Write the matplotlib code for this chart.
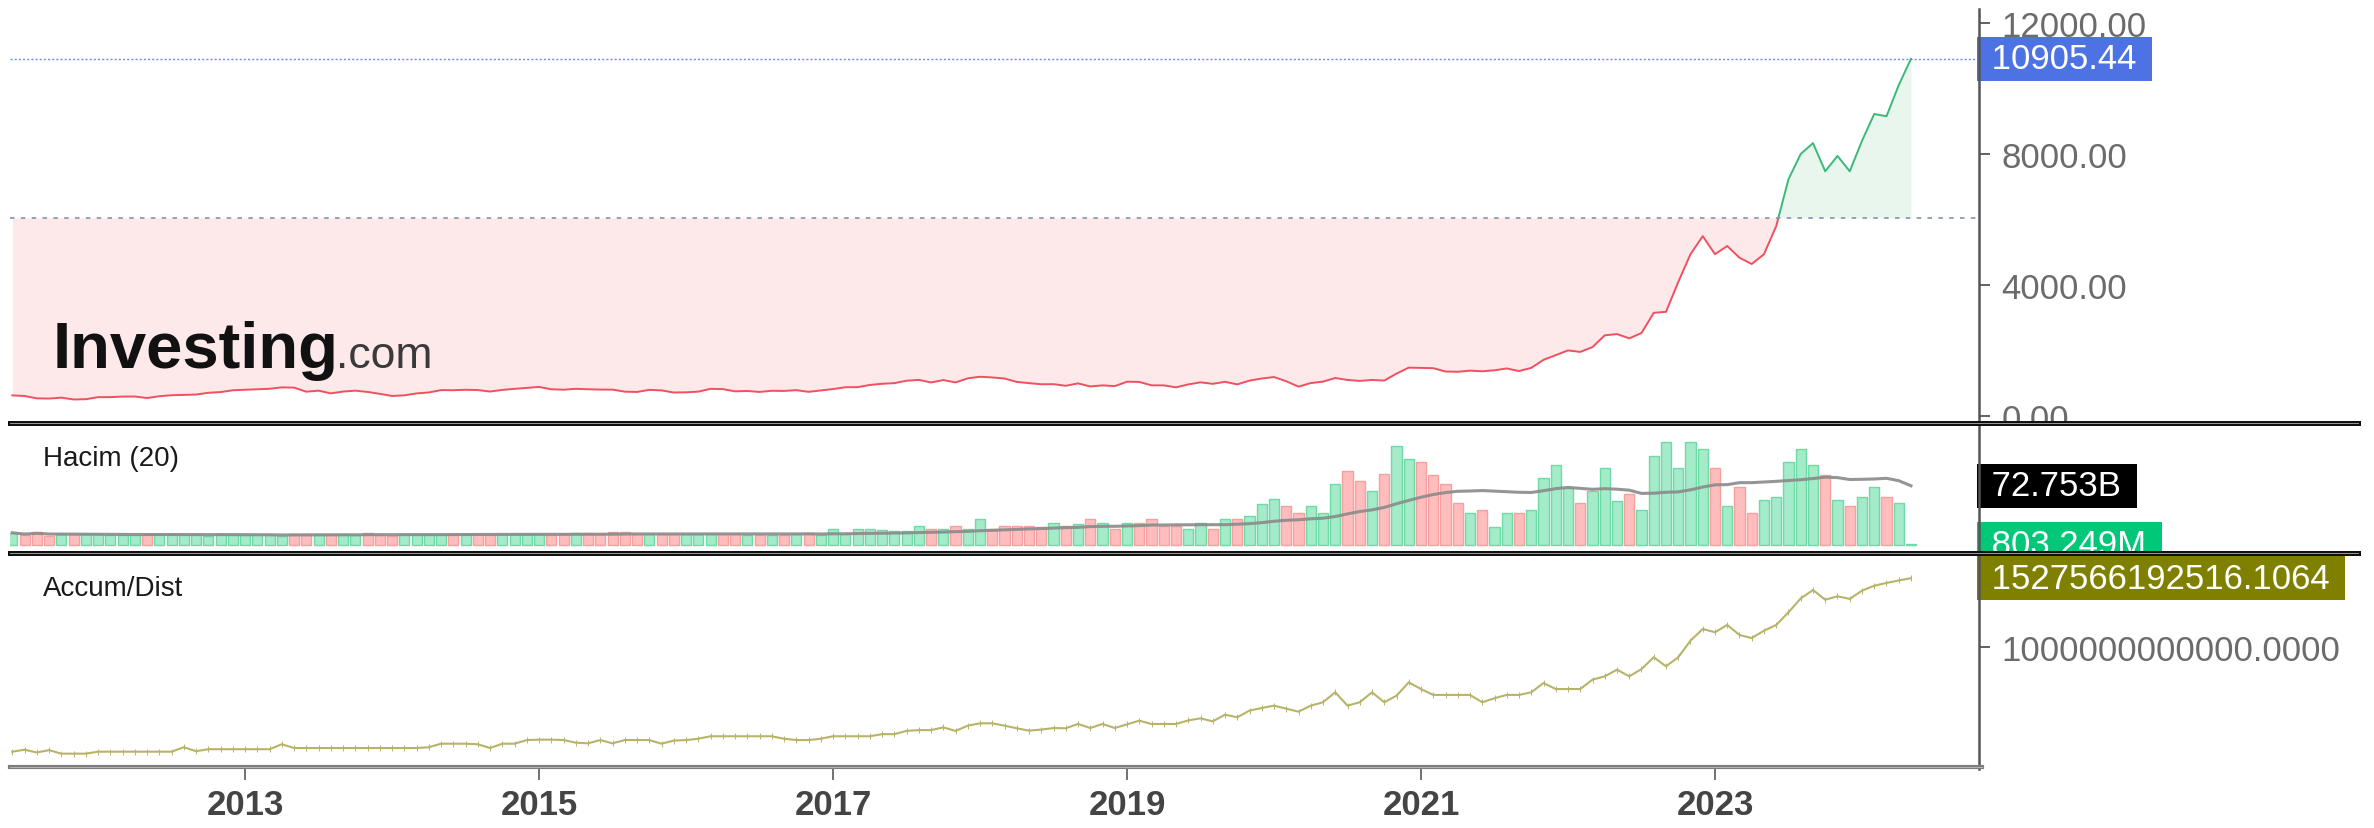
import numpy as np
import pandas as pd
import matplotlib
matplotlib.use('Agg')
import matplotlib.pyplot as plt
from matplotlib.lines import Line2D
from matplotlib.patches import Rectangle
from matplotlib.ticker import FormatStrFormatter

plt.rcParams['font.family'] = ['Liberation Sans', 'DejaVu Sans']

# Aylik veri: Haziran 2011 - Mayis 2024 (156 ay)
first_year, first_month = 2011, 6

close_prices = [
    629, 612, 539, 532, 560, 505, 513, 575, 577, 593,
    595, 549, 604, 634, 644, 655, 709, 730, 786, 802,
    815, 831, 874, 866, 742, 774, 691, 746, 774, 735,
    677, 612, 631, 690, 719, 791, 787, 801, 792, 747,
    797, 829, 857, 888, 816, 803, 830, 816, 807, 805,
    743, 734, 798, 782, 717, 723, 744, 830, 821, 753,
    764, 735, 770, 766, 789, 738, 781, 822, 878, 880,
    947, 984, 1003, 1077, 1103, 1024, 1097, 1026, 1150, 1198,
    1177, 1144, 1041, 1003, 969, 972, 923, 995, 903, 935,
    912, 1047, 1040, 936, 935, 875, 965, 1028, 982, 1043,
    966, 1081, 1144, 1190, 1060, 896, 1006, 1050, 1160, 1100,
    1072, 1101, 1082, 1293, 1477, 1470, 1460, 1358, 1350, 1385,
    1365, 1396, 1452, 1373, 1469, 1715, 1857, 2002, 1957, 2104,
    2463, 2501, 2370, 2534, 3150, 3180, 4090, 4940, 5490, 4940,
    5190, 4830, 4640, 4940, 5800, 7230, 8000, 8330, 7470, 7940,
    7470, 8400, 9220, 9150, 10100, 10905.44,
]

# Hacim, milyar
volume_bn = [
    15, 12, 16, 11, 13, 13, 13, 13, 12, 12,
    12, 13, 13, 14, 12, 12, 11, 14, 12, 12,
    12, 12, 11, 13, 13, 13, 14, 14, 12, 15,
    12, 11, 14, 14, 13, 13, 13, 14, 14, 12,
    13, 13, 13, 13, 12, 13, 15, 15, 13, 16,
    16, 13, 13, 14, 14, 14, 13.6, 13.6, 13.6, 14,
    12, 12, 12, 12, 14, 14.4, 12, 19.7, 13.6, 19.7,
    19.7, 19, 17.5, 17.5, 23, 19.7, 19.7, 23.8, 19.7, 32,
    19.7, 23.8, 23.8, 23.8, 22.6, 26.7, 23.8, 25.5, 32, 27,
    19.7, 27, 27, 32, 23.8, 23.8, 19.7, 26.7, 19.7, 32,
    32, 36, 50.6, 56.7, 47.7, 39, 47.7, 39, 74.8, 91.2,
    79.3, 67, 87.1, 122.5, 106, 102.7, 86.3, 74.8, 51.4, 39,
    43.2, 22.6, 39, 39, 43.2, 82.6, 98.6, 70, 51.4, 67,
    95, 54.3, 62.9, 43.2, 110, 126.6, 95, 126.6, 118.4, 95,
    47.7, 71.1, 39, 55.5, 59.6, 102.7, 118.4, 98.6, 86.3, 55.5,
    47.7, 59.6, 71.1, 59.6, 51.4, 0.8,
]

# Accum/Dist, trilyon
ad_trillion = [
    0.201, 0.216, 0.195, 0.213, 0.186, 0.186, 0.186, 0.201, 0.201, 0.201,
    0.201, 0.201, 0.201, 0.201, 0.235, 0.205, 0.22, 0.22, 0.22, 0.22,
    0.22, 0.22, 0.258, 0.229, 0.229, 0.229, 0.229, 0.229, 0.229, 0.229,
    0.229, 0.229, 0.229, 0.229, 0.235, 0.262, 0.262, 0.262, 0.258, 0.229,
    0.262, 0.262, 0.29, 0.293, 0.293, 0.29, 0.27, 0.265, 0.29, 0.265,
    0.29, 0.29, 0.29, 0.262, 0.286, 0.29, 0.30, 0.319, 0.319, 0.319,
    0.319, 0.319, 0.319, 0.30, 0.29, 0.29, 0.30, 0.319, 0.319, 0.319,
    0.319, 0.335, 0.335, 0.36, 0.366, 0.366, 0.387, 0.36, 0.40, 0.418,
    0.418, 0.40, 0.38, 0.362, 0.37, 0.382, 0.38, 0.413, 0.382, 0.413,
    0.382, 0.41, 0.438, 0.413, 0.413, 0.413, 0.44, 0.456, 0.433, 0.484,
    0.464, 0.515, 0.535, 0.553, 0.53, 0.507, 0.553, 0.579, 0.655, 0.553,
    0.579, 0.655, 0.579, 0.629, 0.731, 0.68, 0.635, 0.635, 0.635, 0.635,
    0.579, 0.61, 0.635, 0.635, 0.655, 0.726, 0.68, 0.68, 0.68, 0.752,
    0.777, 0.828, 0.777, 0.833, 0.923, 0.854, 0.923, 1.05, 1.139, 1.114,
    1.17, 1.093, 1.07, 1.126, 1.17, 1.267, 1.373, 1.437, 1.363, 1.389,
    1.369, 1.432, 1.47, 1.491, 1.51, 1.5276,
]

baseline_value = 6050
price_ticks = [0, 4000, 8000, 12000]
year_ticks = [2013, 2015, 2017, 2019, 2021, 2023]
ma_label = '72.753B'
last_volume_label = '803.249M'
ad_label = '1527566192516.1064'
ad_tick_label = '1000000000000.0000'

W, H = 2374, 829
close = np.array(close_prices, dtype=float)
vol = np.array(volume_bn)
ad = np.array(ad_trillion) * 1e12
n = len(close)
t = first_year + (first_month - 1 + np.arange(n)) / 12.0

fig = plt.figure(figsize=(W / 100, H / 100), dpi=100)
fig.patch.set_facecolor('white')

def fig_axes(x0, x1, y0, y1):
    # piksel (ust-sol) -> figure kesri
    return fig.add_axes([x0 / W, 1 - y1 / H, (x1 - x0) / W, (y1 - y0) / H])

ax_p = fig_axes(10, 1979, 0, 423)
ax_v = fig_axes(10, 1979, 424, 554)
ax_a = fig_axes(10, 1979, 554, 768)

xlim = (2011.401, 2024.796)
for ax in (ax_p, ax_v, ax_a):
    ax.set_xlim(*xlim)
    for s in ax.spines.values():
        s.set_visible(False)
    ax.yaxis.tick_right()
    ax.tick_params(axis='y', right=True, left=False, length=8, width=1.3,
                   color='#555555', pad=8, labelsize=25, labelcolor='#6b6b6b')
    ax.tick_params(axis='x', bottom=False, labelbottom=False)

# --- Fiyat paneli (baseline grafik)
px, py = [t[0]], [close[0]]
for a in range(1, n):
    y0, y1 = close[a - 1], close[a]
    if (y0 - baseline_value) * (y1 - baseline_value) < 0:
        f = (baseline_value - y0) / (y1 - y0)
        px.append(t[a - 1] + f * (t[a] - t[a - 1]))
        py.append(baseline_value)
    px.append(t[a])
    py.append(close[a])
px, py = np.array(px), np.array(py)

ax_p.fill_between(px, py, baseline_value, where=py <= baseline_value,
                  color='#fde8ea', lw=0, interpolate=True)
ax_p.fill_between(px, py, baseline_value, where=py >= baseline_value,
                  color='#e9f6ee', lw=0, interpolate=True)
ax_p.plot(px, np.where(py <= baseline_value, py, np.nan), color='#f0505f', lw=1.4)
ax_p.plot(px, np.where(py >= baseline_value, py, np.nan), color='#3cb878', lw=1.4)
ax_p.axhline(baseline_value, color='#8d9bb0', lw=1.3, dashes=(2.5, 3.5))
ax_p.axhline(close[-1], color='#6f8ae8', lw=1.0, dashes=(1.5, 1.5))
ax_p.set_ylim(-183, 12730)
ax_p.set_yticks(price_ticks)
ax_p.yaxis.set_major_formatter(FormatStrFormatter('%.2f'))

fig.text(53 / W, 1 - 368 / H, 'Investing', fontsize=47, fontweight='bold',
         color='#111111', va='baseline', ha='left')
fig.text(336 / W, 1 - 368 / H, '.com', fontsize=32, color='#3a3a3a',
         va='baseline', ha='left')

def value_box(ax, y, text, face):
    ax.annotate(' ' + text + ' ', xy=(1, y), xycoords=('axes fraction', 'data'),
                xytext=(2.5, 0), textcoords='offset points', ha='left', va='center',
                fontsize=25, color='white', annotation_clip=False, zorder=6,
                bbox=dict(boxstyle='square,pad=0.16', fc=face, ec='none'))

value_box(ax_p, close[-1], '%.2f' % close[-1], '#4d72e3')

# --- Hacim paneli
up = np.r_[True, close[1:] >= close[:-1]]
face = np.where(up, '#a3ebc9', '#ffbdbd')
edge = np.where(up, '#6edaa6', '#f7a0a0')
ax_v.bar(t, vol, width=0.82 / 12, color=face, edgecolor=edge, linewidth=1.0)
ma20 = pd.Series(vol).rolling(20, min_periods=1).mean()
ax_v.plot(t, ma20, color='#8a8a8a', lw=2.2, alpha=0.9)
ax_v.set_ylim(-9.9, 150.4)
ax_v.set_yticks([ma20.iloc[-1], vol[-1]])
ax_v.set_yticklabels(['', ''])
ax_v.add_patch(Rectangle((1.0, 0), 0.2, 1, transform=ax_v.transAxes,
                         fc='white', ec='none', clip_on=False, zorder=0.5))
value_box(ax_v, ma20.iloc[-1], ma_label, '#000000')
value_box(ax_v, vol[-1], last_volume_label, '#00c878')
ax_v.text(33 / 1969, 0.73, 'Hacim (20)', transform=ax_v.transAxes,
          fontsize=20, color='#1a1a1a', va='center', ha='left')

# --- Accum/Dist paneli
ax_a.plot(t, ad, color='#b7b46a', lw=1.5, marker='|', ms=4, mew=0.7)
ax_a.set_ylim(0.084e12, 1.720e12)
ax_a.set_yticks([1e12, ad[-1]])
ax_a.set_yticklabels([ad_tick_label, ''])
ax_a.add_patch(Rectangle((1.0, 0), 0.25, 1, transform=ax_a.transAxes,
                         fc='white', ec='none', clip_on=False, zorder=0.5))
value_box(ax_a, ad[-1], ad_label, '#808000')
ax_a.text(33 / 1969, 1 - 35 / 214, 'Accum/Dist', transform=ax_a.transAxes,
          fontsize=20, color='#1a1a1a', va='center', ha='left')
ax_a.set_xticks(year_ticks)
ax_a.set_xticklabels([str(y) for y in year_ticks])
ax_a.tick_params(axis='x', bottom=True, labelbottom=True, direction='out',
                 length=9, width=1.3, color='#666666', pad=6,
                 labelsize=25, labelcolor='#444444')
for lab in ax_a.get_xticklabels():
    lab.set_fontweight('bold')

# --- Eksen cizgileri ve panel ayiricilari
def fig_line(x0, y0, x1, y1, **kw):
    fig.add_artist(Line2D([x0 / W, x1 / W], [1 - y0 / H, 1 - y1 / H],
                          transform=fig.transFigure, **kw))

fig_line(1979, 10, 1979, 770, color='#555555', lw=1.8)
for ys in (423.5, 554):
    fig_line(10, ys, 2358, ys, color='#111111', lw=3.6, zorder=5)
    fig_line(10, ys, 2358, ys, color='#9a9a9a', lw=0.7, zorder=5)
fig_line(10, 768, 1982, 768, color='#7d7d7d', lw=3.0, zorder=5)
fig_line(10, 768, 1982, 768, color='#b5b5b5', lw=0.7, zorder=5)

fig.savefig('out.png', dpi=100, facecolor='white')
